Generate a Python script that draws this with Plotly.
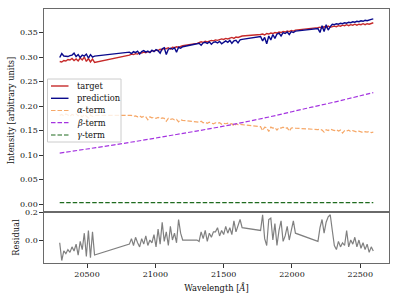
import plotly.graph_objects as go

# ---------------- data ----------------
wavelength = [
    20300, 20315, 20330, 20345, 20360, 20375, 20390, 20405, 20420, 20435, 20450, 20465, 20480, 20495, 20510, 20525, 20540, 20555,
    20810, 20825, 20840, 20855, 20870, 20885, 20900, 20915, 20930, 20945, 20960, 20975, 20990, 21005, 21020, 21035, 21050, 21065,
    21080, 21095, 21110, 21125, 21140, 21155, 21170, 21185, 21200,
    21305, 21320, 21335, 21350, 21365, 21380, 21395, 21410, 21425, 21440, 21455, 21470, 21485, 21500, 21515, 21530, 21545, 21560,
    21575, 21590, 21605, 21620, 21635,
    21770, 21785, 21800, 21815, 21830, 21845, 21860, 21875, 21890, 21905, 21920, 21935, 21950, 21965, 21980, 21995, 22010, 22025,
    22190, 22205, 22220, 22235, 22250, 22265, 22280, 22295, 22310, 22325, 22340, 22355, 22370, 22385, 22400, 22415, 22430, 22445,
    22460, 22475, 22490, 22505, 22520, 22535, 22550, 22565, 22580, 22595,
]

target = [
    0.291, 0.290, 0.293, 0.292, 0.295, 0.294, 0.297, 0.293, 0.296, 0.292, 0.298, 0.294, 0.300, 0.291, 0.297, 0.290, 0.296, 0.289,
    0.304, 0.306, 0.305, 0.307, 0.306, 0.309, 0.308, 0.310, 0.309, 0.311, 0.310, 0.313, 0.312, 0.314, 0.313, 0.316, 0.315, 0.318,
    0.317, 0.319, 0.316, 0.320, 0.319, 0.321, 0.320, 0.322, 0.323,
    0.328, 0.329, 0.331, 0.330, 0.332, 0.331, 0.333, 0.334, 0.333, 0.335, 0.334, 0.336, 0.337, 0.336, 0.338, 0.337, 0.339, 0.340,
    0.338, 0.341, 0.340, 0.342, 0.343,
    0.346, 0.347, 0.345, 0.348, 0.347, 0.349, 0.348, 0.350, 0.349, 0.351, 0.350, 0.352, 0.351, 0.353, 0.352, 0.354, 0.353, 0.355,
    0.360, 0.361, 0.359, 0.362, 0.360, 0.363, 0.361, 0.362, 0.363, 0.362, 0.364, 0.363, 0.365, 0.364, 0.366, 0.364, 0.366, 0.365,
    0.367, 0.365, 0.367, 0.366, 0.368, 0.366, 0.368, 0.367, 0.369, 0.370,
]

prediction = [
    0.299, 0.307, 0.302, 0.302, 0.301, 0.303, 0.304, 0.308, 0.301, 0.305, 0.299, 0.304, 0.302, 0.306, 0.298, 0.305, 0.300, 0.302,
    0.310, 0.307, 0.311, 0.309, 0.312, 0.306, 0.311, 0.313, 0.310, 0.312, 0.309, 0.314, 0.311, 0.315, 0.313, 0.308, 0.317, 0.319,
    0.305, 0.316, 0.318, 0.316, 0.319, 0.310, 0.320, 0.318, 0.321,
    0.327, 0.328, 0.324, 0.329, 0.330, 0.328, 0.331, 0.326, 0.330, 0.331, 0.329, 0.332, 0.327, 0.331, 0.333, 0.330, 0.334, 0.328,
    0.333, 0.334, 0.329, 0.335, 0.336,
    0.342, 0.333, 0.340, 0.327, 0.343, 0.335, 0.346, 0.338, 0.347, 0.349, 0.343, 0.350, 0.348, 0.351, 0.346, 0.352, 0.350, 0.353,
    0.358, 0.350, 0.364, 0.352, 0.366, 0.355, 0.362, 0.367, 0.366, 0.368, 0.367, 0.369, 0.368, 0.370, 0.369, 0.371, 0.370, 0.372,
    0.371, 0.373, 0.372, 0.374, 0.373, 0.375, 0.374, 0.376, 0.377, 0.378,
]

alpha_term = [
    0.181, 0.183, 0.180, 0.184, 0.182, 0.179, 0.183, 0.181, 0.184, 0.180, 0.182, 0.178, 0.183, 0.180, 0.176, 0.182, 0.179, 0.181,
    0.180, 0.181, 0.179, 0.180, 0.178, 0.180, 0.177, 0.179, 0.178, 0.172, 0.178, 0.176, 0.177, 0.175, 0.177, 0.174, 0.176, 0.175,
    0.169, 0.175, 0.173, 0.174, 0.172, 0.173, 0.168, 0.172, 0.171,
    0.168, 0.167, 0.169, 0.166, 0.167, 0.165, 0.167, 0.166, 0.164, 0.166, 0.165, 0.166, 0.163, 0.165, 0.164, 0.165, 0.163, 0.164,
    0.159, 0.164, 0.162, 0.163, 0.162,
    0.158, 0.150, 0.157, 0.156, 0.148, 0.157, 0.155, 0.156, 0.151, 0.156, 0.155, 0.157, 0.154, 0.156, 0.149, 0.155, 0.156, 0.155,
    0.152, 0.153, 0.151, 0.147, 0.152, 0.150, 0.153, 0.151, 0.150, 0.152, 0.149, 0.151, 0.145, 0.150, 0.149, 0.151, 0.148, 0.150,
    0.149, 0.147, 0.149, 0.148, 0.146, 0.148, 0.147, 0.148, 0.146, 0.147,
]

residual = [
    -0.02, -0.15, -0.08, -0.10, -0.07, -0.09, -0.05, -0.08, -0.03, -0.11, -0.01, -0.07, 0.05, -0.12, 0.07, -0.13, 0.06, -0.11,
    -0.03, 0.01, -0.04, 0.02, -0.02, -0.05, 0.01, -0.03, 0.03, -0.04, 0.00, -0.02, 0.04, -0.05, 0.08, -0.03, 0.13, -0.01,
    0.06, -0.04, 0.10, 0.00, 0.05, -0.02, 0.15, 0.05, 0.00,
    0.00, -0.01, 0.06, 0.01, 0.07, -0.01, 0.05, 0.02, 0.06, 0.06, 0.09, 0.03, 0.07, 0.04, 0.10, 0.05, 0.09, 0.04,
    0.14, 0.06, 0.11, 0.15, 0.09,
    0.07, 0.185, 0.01, -0.04, 0.15, 0.16, 0.00, 0.12, -0.04, 0.07, 0.14, -0.01, 0.03, 0.10, 0.00, 0.07, 0.14, 0.05,
    -0.01, 0.09, 0.15, 0.05, 0.13, 0.17, 0.185, 0.07, -0.04, -0.07, -0.01, -0.05, -0.02, -0.04, 0.07, -0.05, 0.00, -0.03,
    0.02, -0.05, 0.00, -0.06, -0.02, -0.07, -0.03, -0.09, -0.05, -0.08,
]

beta_wavelength = [20300, 20500, 20700, 20900, 21100, 21300, 21500, 21700, 21900, 22100, 22300, 22500, 22595]
beta_term = [0.104, 0.1125, 0.121, 0.130, 0.1395, 0.149, 0.159, 0.170, 0.182, 0.195, 0.2075, 0.221, 0.2275]

gamma_wavelength = [20300, 21000, 21600, 22200, 22595]
gamma_term = [0.003, 0.003, 0.003, 0.003, 0.003]

legend_labels = ["target", "prediction", "<i>α</i>-term", "<i>β</i>-term", "<i>γ</i>-term"]
x_ticks = [20500, 21000, 21500, 22000, 22500]

assert len(wavelength) == len(target) == len(prediction) == len(alpha_term) == len(residual)

# ---------------- styles ----------------
FONT = "DejaVu Serif"
C_TARGET = "#c62a2a"
C_PRED = "#0a0a8c"
C_ALPHA = "#f6a868"
C_BETA = "#a433e0"
C_GAMMA = "#1f6b1f"
C_RES = "#808080"
DASH = "4.5px,2px"
colors = [C_TARGET, C_PRED, C_ALPHA, C_BETA, C_GAMMA]
dashes = ["solid", "solid", DASH, DASH, DASH]

fig = go.Figure()
fig.add_trace(go.Scatter(x=wavelength, y=target, mode="lines", name="target",
                         line=dict(color=C_TARGET, width=1.4), xaxis="x", yaxis="y", showlegend=False))
fig.add_trace(go.Scatter(x=wavelength, y=prediction, mode="lines", name="prediction",
                         line=dict(color=C_PRED, width=1.4), xaxis="x", yaxis="y", showlegend=False))
fig.add_trace(go.Scatter(x=wavelength, y=alpha_term, mode="lines", name="α-term",
                         line=dict(color=C_ALPHA, width=1.2, dash=DASH), xaxis="x", yaxis="y", showlegend=False))
fig.add_trace(go.Scatter(x=beta_wavelength, y=beta_term, mode="lines", name="β-term", line_shape="spline",
                         line=dict(color=C_BETA, width=1.2, dash=DASH), xaxis="x", yaxis="y", showlegend=False))
fig.add_trace(go.Scatter(x=gamma_wavelength, y=gamma_term, mode="lines", name="γ-term",
                         line=dict(color=C_GAMMA, width=1.2, dash=DASH), xaxis="x", yaxis="y", showlegend=False))
fig.add_trace(go.Scatter(x=wavelength, y=residual, mode="lines", name="residual",
                         line=dict(color=C_RES, width=1.2), xaxis="x2", yaxis="y2", showlegend=False))

split = 0.2008
axis_common = dict(showline=True, linecolor="#6a6a6a", linewidth=1.2, mirror=True, automargin=False,
                   showgrid=False, zeroline=False, ticks="outside", ticklen=3.5, tickwidth=1,
                   tickcolor="#333", tickfont=dict(family=FONT, size=8, color="#111"))

fig.update_layout(
    width=399, height=299,
    margin=dict(l=44, r=10, t=9, b=36, autoexpand=False),
    paper_bgcolor="white", plot_bgcolor="white",
    font=dict(family=FONT, size=8, color="#111"),
    xaxis=dict(axis_common, domain=[0, 1], anchor="y", range=[20185, 22710], matches="x2",
               showticklabels=False, ticks=""),
    yaxis=dict(axis_common, domain=[split, 1], anchor="x", range=[-0.016, 0.398],
               dtick=0.05, tick0=0, tickformat=".2f",
               title=dict(text="Intensity [arbitrary units]", font=dict(family=FONT, size=8.3), standoff=4)),
    xaxis2=dict(axis_common, domain=[0, 1], anchor="y2", range=[20185, 22710], tickvals=x_ticks,
                tickformat="d",
                title=dict(text="Wavelength [<i>Å</i>]", font=dict(family=FONT, size=8.3), standoff=6)),
    yaxis2=dict(axis_common, domain=[0, split], anchor="x2", range=[-0.168, 0.205],
                tickvals=[0.0, 0.2], tickformat=".1f",
                title=dict(text="Residual", font=dict(family=FONT, size=8.3), standoff=4)),
)

# legend box (drawn as a frame with entries, like the matplotlib legend)
def px_x(p):
    return (p - 44) / 345.0

def px_y(p):
    return (263 - p) / 254.0

fig.add_shape(type="rect", xref="paper", yref="paper", layer="above",
              x0=px_x(47.5), x1=px_x(121), y0=px_y(142), y1=px_y(79),
              fillcolor="rgba(255,255,255,0.8)", line=dict(color="#cccccc", width=1))
entry_y = [86, 98.3, 110.5, 122.7, 135]
for lab, col, dsh, yy in zip(legend_labels, colors, dashes, entry_y):
    fig.add_shape(type="line", xref="paper", yref="paper", layer="above",
                  x0=px_x(51), x1=px_x(68.5), y0=px_y(yy), y1=px_y(yy),
                  line=dict(color=col, width=1.4 if dsh == "solid" else 1.2, dash=dsh))
    fig.add_annotation(xref="paper", yref="paper", x=px_x(74.5), y=px_y(yy), text=lab,
                       showarrow=False, xanchor="left", yanchor="middle",
                       font=dict(family=FONT, size=8.3, color="#111"))

fig.write_html("out.html", config={"displayModeBar": False},
               post_script="document.body.style.margin='0px';")
